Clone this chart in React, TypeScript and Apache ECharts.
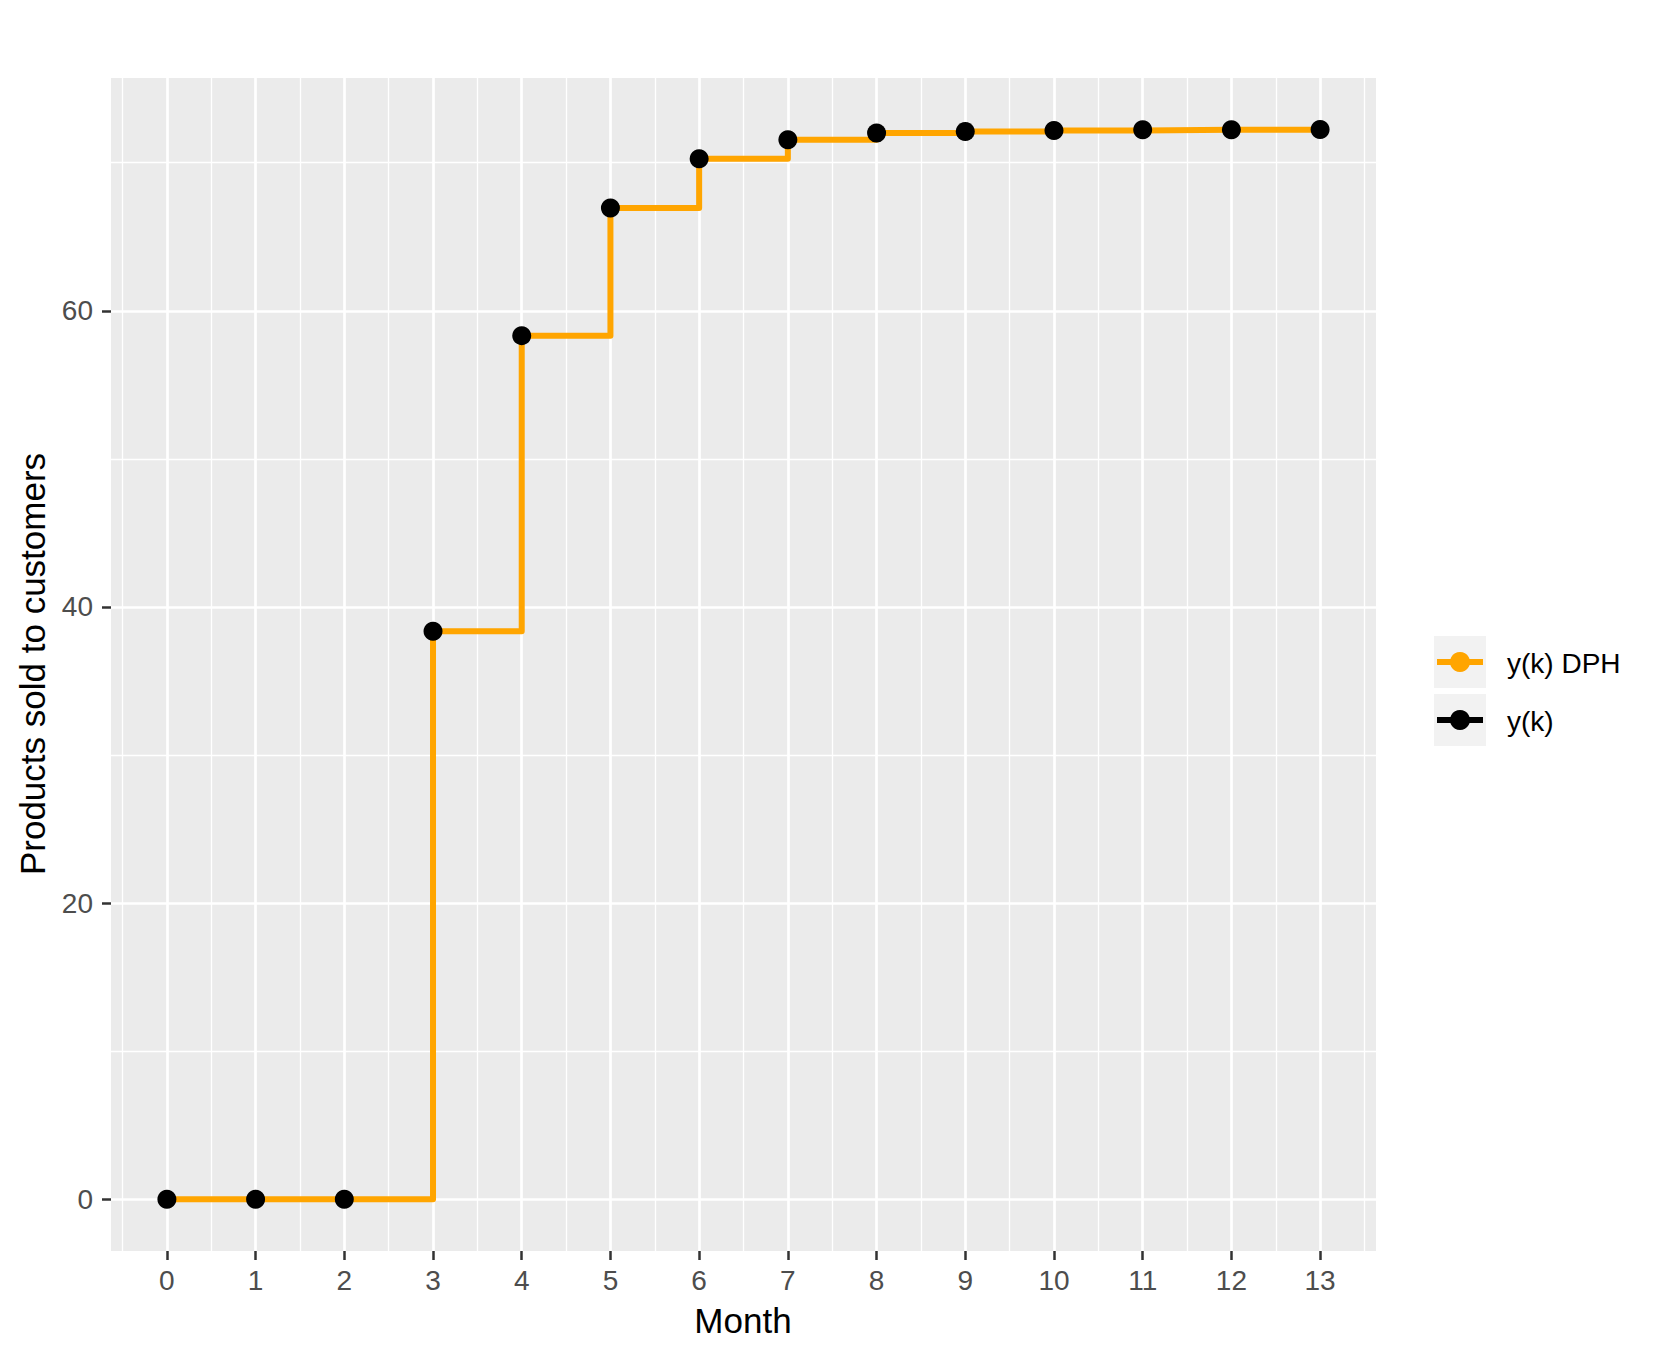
import React, { useEffect, useRef } from "react";
import * as echarts from "echarts";

const months = [0, 1, 2, 3, 4, 5, 6, 7, 8, 9, 10, 11, 12, 13];
const yDPH = [0, 0, 0, 38.35, 58.32, 66.94, 70.27, 71.55, 72.0, 72.1, 72.18, 72.22, 72.23, 72.24];
const yK = [0, 0, 0, 38.35, 58.32, 66.94, 70.27, 71.55, 72.0, 72.1, 72.18, 72.22, 72.23, 72.24];
const xTicks = [0, 1, 2, 3, 4, 5, 6, 7, 8, 9, 10, 11, 12, 13];
const xMinor = [-0.5, 0.5, 1.5, 2.5, 3.5, 4.5, 5.5, 6.5, 7.5, 8.5, 9.5, 10.5, 11.5, 12.5, 13.5];
const yTicks = [0, 20, 40, 60];
const yMinor = [10, 30, 50, 70];
const legendNames = ["y(k) DPH", "y(k)"];
const legendColors = ["#FFA500", "#000000"];

const FONT = "Liberation Sans, Arial, Helvetica, sans-serif";

export default function App() {
  const ref = useRef<HTMLDivElement>(null);
  useEffect(() => {
    if (!ref.current) return;
    const chart = echarts.init(ref.current, null, { renderer: "svg" });
    const gridLeft = 111, gridTop = 78, gridW = 1265, gridH = 1173;
    const major = { color: "#FFFFFF", width: 2.7, type: "solid" };
    const minor = { color: "#FFFFFF", width: 1.3, type: "solid" };
    const gridLines = [
      ...xMinor.map((v) => ({ xAxis: v, lineStyle: minor })),
      ...yMinor.map((v) => ({ yAxis: v, lineStyle: minor })),
      ...xTicks.map((v) => ({ xAxis: v, lineStyle: major })),
      ...yTicks.map((v) => ({ yAxis: v, lineStyle: major })),
    ];
    const legendGraphics: any[] = [];
    legendNames.forEach((name, i) => {
      const top = 636 + i * 58;
      legendGraphics.push(
        { type: "rect", shape: { x: 1434, y: top, width: 52, height: 52 }, style: { fill: "#F2F2F2" }, silent: true },
        { type: "line", shape: { x1: 1437, y1: top + 26, x2: 1483, y2: top + 26 }, style: { stroke: legendColors[i], lineWidth: 6 }, silent: true },
        { type: "circle", shape: { cx: 1460, cy: top + 26, r: 10 }, style: { fill: legendColors[i] }, silent: true },
        { type: "text", x: 1507, y: top + 27, style: { text: name, font: `28px ${FONT}`, fill: "#000000", textVerticalAlign: "middle", textAlign: "left" }, silent: true }
      );
    });
    chart.setOption({
      animation: false,
      backgroundColor: "#FFFFFF",
      grid: {
        left: gridLeft, top: gridTop, width: gridW, height: gridH,
        show: true, backgroundColor: "#EBEBEB", borderWidth: 0,
      },
      xAxis: {
        type: "value", min: -0.63, max: 13.63, position: "bottom",
        splitLine: { show: false },
        axisLine: { show: false, onZero: false },
        axisTick: { show: true, length: 9, customValues: xTicks, lineStyle: { color: "#333333", width: 2.5 } },
        axisLabel: { show: true, customValues: xTicks, margin: 15, color: "#4D4D4D", fontSize: 28, fontFamily: FONT },
      },
      yAxis: {
        type: "value", min: -3.5, max: 75.72, position: "left",
        splitLine: { show: false },
        axisLine: { show: false, onZero: false },
        axisTick: { show: true, length: 9, customValues: yTicks, lineStyle: { color: "#333333", width: 2.5 } },
        axisLabel: { show: true, customValues: yTicks, margin: 18, color: "#4D4D4D", fontSize: 28, fontFamily: FONT },
      },
      series: [
        {
          name: "grid",
          type: "line",
          data: [],
          z: 1,
          silent: true,
          markLine: { silent: true, z: 1, symbol: ["none", "none"], label: { show: false }, data: gridLines, animation: false },
        },
        {
          name: legendNames[0],
          type: "line",
          step: "end",
          data: months.map((m, i) => [m, yDPH[i]]),
          showSymbol: false,
          lineStyle: { color: "#FFA500", width: 6, join: "round", cap: "round" },
          z: 20,
        },
        {
          name: legendNames[1],
          type: "scatter",
          data: months.map((m, i) => [m, yK[i]]),
          symbol: "circle",
          symbolSize: 19,
          itemStyle: { color: "#000000", borderWidth: 0, opacity: 1 },
          z: 30,
        },
      ],
      graphic: [
        { type: "text", x: 743, y: 1320, style: { text: "Month", font: `35px ${FONT}`, fill: "#000000", textAlign: "center", textVerticalAlign: "middle" }, silent: true },
        { type: "text", x: 32, y: 664, rotation: Math.PI / 2, style: { text: "Products sold to customers", font: `35px ${FONT}`, fill: "#000000", textAlign: "center", textVerticalAlign: "middle" }, silent: true },
        ...legendGraphics,
      ],
    });
    return () => chart.dispose();
  }, []);
  return <div ref={ref} style={{ position: "fixed", left: 0, top: 0, width: 1661, height: 1357 }} />;
}
